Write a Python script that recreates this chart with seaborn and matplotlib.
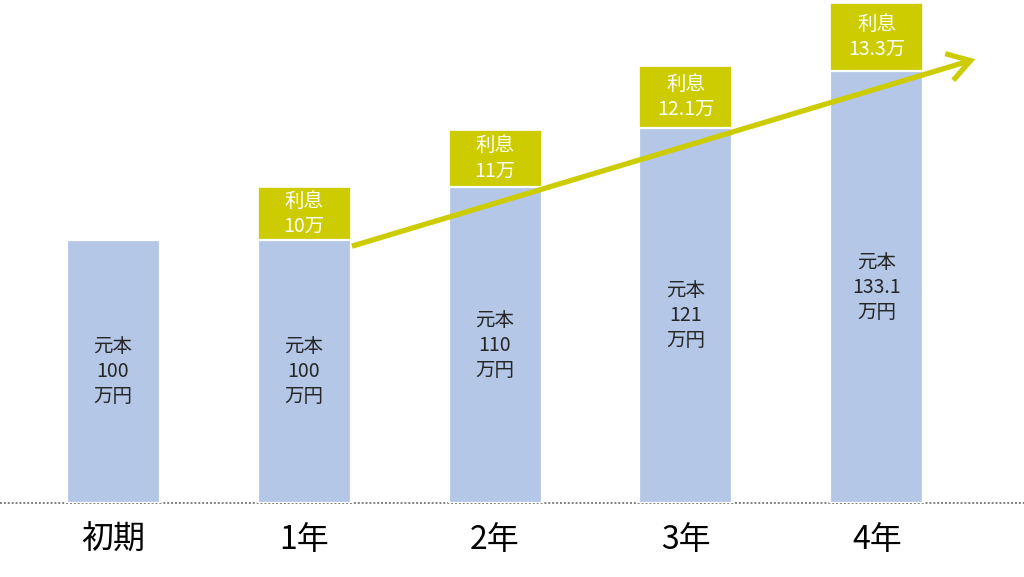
import matplotlib
matplotlib.use("Agg")
import matplotlib.pyplot as plt
import seaborn as sns
import pandas as pd

# Data (bar heights as drawn, initial principal = 100)
categories = ["初期", "1年", "2年", "3年", "4年"]
principal_drawn = [100, 100, 120.2, 142.6, 164.3]
interest_drawn = [0, 20.2, 21.7, 23.6, 25.9]
principal_labels = ["元本\n100\n万円", "元本\n100\n万円", "元本\n110\n万円", "元本\n121\n万円", "元本\n133.1\n万円"]
interest_labels = ["", "利息\n10万", "利息\n11万", "利息\n12.1万", "利息\n13.3万"]

BLUE = "#B4C7E7"
YELLOW = "#CCCC00"

sns.set_theme(style="white")
plt.rcParams["font.family"] = ["Noto Sans CJK JP", "DejaVu Sans"]

df = pd.DataFrame({
    "cat": categories,
    "principal": principal_drawn,
    "total": [p + i for p, i in zip(principal_drawn, interest_drawn)],
})

fig = plt.figure(figsize=(10.24, 5.77), dpi=100)
ax = fig.add_axes([0, 0.128, 1, 0.872])

sns.barplot(data=df, x="cat", y="total", color=YELLOW, saturation=1, width=0.487,
            edgecolor="white", linewidth=1.2, ax=ax, zorder=2)
sns.barplot(data=df, x="cat", y="principal", color=BLUE, saturation=1, width=0.487,
            edgecolor="white", linewidth=1.6, ax=ax, zorder=3)

ax.set_xlim(-0.592, 4.77)
ax.set_ylim(0, 191.3)

# dotted baseline
ax.axhline(0, color="#808080", linestyle=(0, (1, 1)), linewidth=1.4, zorder=1, clip_on=False)

# labels in bars
for i, (p, it) in enumerate(zip(principal_drawn, interest_drawn)):
    ax.text(i, p / 2, principal_labels[i], ha="center", va="center", fontsize=14,
            color="#262626", linespacing=1.25, zorder=5)
    if it > 0:
        ax.text(i, p + it / 2, interest_labels[i], ha="center", va="center", fontsize=14,
                color="white", linespacing=1.25, zorder=5)

# arrow
ax.annotate("", xy=(4.515, 168.8), xytext=(1.251, 97.7),
            arrowprops=dict(arrowstyle="->,head_length=0.8,head_width=0.5",
                            color=YELLOW, lw=3.8, mutation_scale=20,
                            shrinkA=0, shrinkB=0, joinstyle="miter", capstyle="butt"),
            zorder=6, annotation_clip=False)

ax.set_xlabel("")
ax.set_ylabel("")
ax.set_yticks([])
ax.tick_params(axis="x", length=0, pad=15, labelsize=23, labelcolor="black")
for s in ax.spines.values():
    s.set_visible(False)

fig.savefig("out.png", dpi=100)
